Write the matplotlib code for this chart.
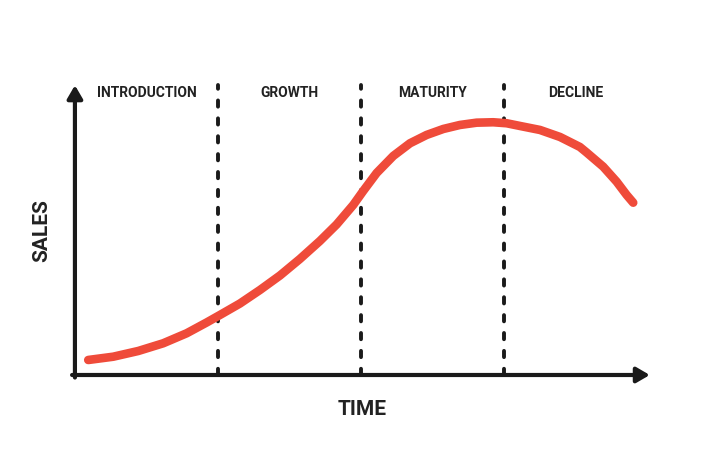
import matplotlib
matplotlib.use("Agg")
import matplotlib.pyplot as plt

# fases do ciclo de vida (cada fase = 1 unidade de tempo)
phases = ["INTRODUCTION", "GROWTH", "MATURITY", "DECLINE"]
boundaries = [1, 2, 3]

# curva de vendas
time = [0.093, 0.268, 0.443, 0.617, 0.781, 0.921, 1.014, 1.154, 1.294, 1.434,
        1.573, 1.713, 1.830, 1.946, 2.016, 2.110, 2.226, 2.343, 2.459, 2.576,
        2.692, 2.809, 2.925, 3.019, 3.112, 3.252, 3.392, 3.531, 3.578, 3.694,
        3.788, 3.858, 3.904]
sales = [5.93, 7.23, 9.49, 12.53, 16.48, 20.75, 23.72, 28.26, 33.6, 39.33,
         45.85, 52.96, 59.49, 67.19, 72.73, 79.84, 86.56, 91.58, 94.86, 97.23,
         98.81, 99.72, 99.88, 99.49, 98.42, 96.84, 94.07, 90.12, 87.94, 82.33,
         76.4, 71.15, 68.1]

fonte = dict(family=["Roboto", "DejaVu Sans"], fontweight="bold", color="#222222")

fig = plt.figure(figsize=(7.02, 4.59), dpi=100)
ax = fig.add_axes([0, 0, 1, 1])
ax.set_xlim(-0.524, 4.385)
ax.set_ylim(-33.2, 148.2)
ax.axis("off")

# linhas tracejadas entre as fases
for b in boundaries:
    ax.plot([b, b], [0, 114.6], color="#1a1a1a", lw=2.8, dashes=(1.6, 3.0),
            dash_capstyle="round", zorder=1)

# curva
ax.plot(time, sales, color="#ef4b3a", lw=6.2, solid_capstyle="round",
        solid_joinstyle="round", zorder=3)

# eixos com setas
seta = dict(arrowstyle="-|>,head_length=0.6,head_width=0.35", lw=3, color="#1a1a1a",
            shrinkA=0, shrinkB=0, mutation_scale=13)
ax.annotate("", xy=(4.02, 0), xytext=(-0.02, 0), arrowprops=seta, zorder=2)
ax.annotate("", xy=(0, 114.5), xytext=(0, -1.0), arrowprops=seta, zorder=2)

# rótulos das fases
for i, nome in enumerate(phases):
    ax.text(i + 0.5, 111.5, nome, ha="center", va="center", fontsize=10, **fonte)

ax.text(2.005, -13.8, "TIME", ha="center", va="center", fontsize=15, **fonte)
ax.text(-0.23, 57, "SALES", ha="center", va="center", rotation=90, fontsize=15, **fonte)

fig.savefig("out.png", dpi=100)
